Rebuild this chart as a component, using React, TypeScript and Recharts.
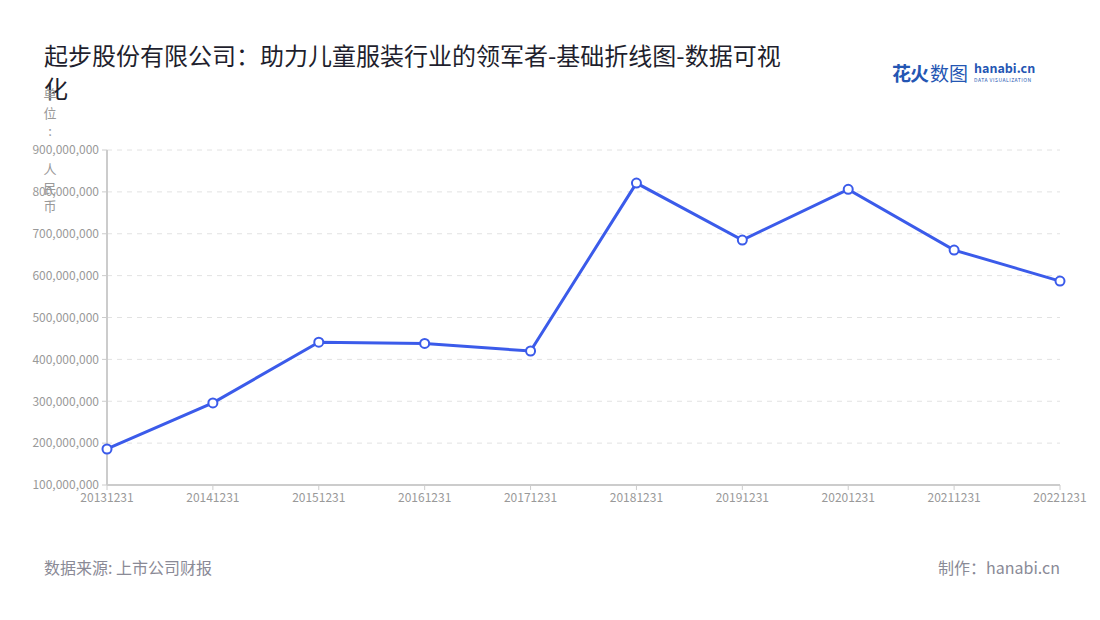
import React from "react";
import { LineChart, Line, XAxis, YAxis, CartesianGrid } from "recharts";

const dates = [
  "20131231",
  "20141231",
  "20151231",
  "20161231",
  "20171231",
  "20181231",
  "20191231",
  "20201231",
  "20211231",
  "20221231",
];
const revenue = [
  186000000, 296000000, 441000000, 438000000, 420000000, 821000000,
  685000000, 806000000, 661000000, 587000000,
];
const yTicks = [
  100000000, 200000000, 300000000, 400000000, 500000000, 600000000,
  700000000, 800000000, 900000000,
];

const data = dates.map((d, i) => ({ date: d, value: revenue[i] }));

const font = '"Noto Sans CJK SC", "Noto Sans", sans-serif';
const lineColor = "#3b5bea";
const axisColor = "#cccccc";
const tickStyle = { fill: "#999999", fontSize: 12, fontFamily: font };

export default function App() {
  return (
    <div
      style={{
        position: "fixed",
        left: 0,
        top: 0,
        width: 1100,
        height: 620,
        background: "#fff",
        fontFamily: font,
      }}
    >
      <div
        style={{
          position: "absolute",
          left: 44,
          top: 38,
          width: 750,
          fontSize: 24,
          lineHeight: "33px",
          color: "#1f1f2e",
        }}
      >
        起步股份有限公司：助力儿童服装行业的领军者-基础折线图-数据可视化
      </div>

      {/* logo */}
      <div
        style={{
          position: "absolute",
          left: 892,
          top: 59,
          display: "flex",
          alignItems: "center",
          gap: 4,
        }}
      >
        <span style={{ fontSize: 19, fontWeight: 700, color: "#2456b3", letterSpacing: -1 }}>
          花火
        </span>
        <span style={{ fontSize: 19, color: "#2456b3", marginLeft: -2 }}>数图</span>
        <div style={{ display: "flex", flexDirection: "column", marginLeft: 2 }}>
          <span style={{ fontSize: 12.5, fontWeight: 700, color: "#2456b3", lineHeight: "14px" }}>
            hanabi.cn
          </span>
          <span style={{ fontSize: 5, color: "#2456b3", letterSpacing: 0.5, lineHeight: "8px", marginTop: 1 }}>
            DATA VISUALIZATION
          </span>
        </div>
      </div>

      <div
        style={{
          position: "absolute",
          left: 43,
          top: 85,
          width: 14,
          fontSize: 13,
          lineHeight: "18.7px",
          color: "#999999",
          whiteSpace: "pre-wrap",
          textAlign: "center",
        }}
      >
        {"单\n位\n:\n \n人\n民\n币"}
      </div>

      <LineChart
        width={1100}
        height={620}
        data={data}
        margin={{ top: 150, right: 40, bottom: 105, left: 0 }}
      >
        <CartesianGrid
          vertical={false}
          stroke="#e2e2e2"
          strokeDasharray="5 5"
        />
        <XAxis
          dataKey="date"
          height={30}
          interval={0}
          tick={tickStyle}
          tickLine={{ stroke: axisColor }}
          axisLine={{ stroke: axisColor, strokeWidth: 2 }}
          tickSize={5}
          tickMargin={3}
        />
        <YAxis
          width={107}
          domain={[100000000, 900000000]}
          ticks={yTicks}
          interval={0}
          tick={tickStyle}
          tickLine={{ stroke: axisColor }}
          axisLine={{ stroke: axisColor, strokeWidth: 2 }}
          tickSize={5}
          tickMargin={3}
          tickFormatter={(v: number) => v.toLocaleString("en-US")}
        />
        <Line
          type="linear"
          dataKey="value"
          stroke={lineColor}
          strokeWidth={3}
          dot={{ r: 4.5, fill: "#ffffff", stroke: lineColor, strokeWidth: 2 }}
          isAnimationActive={false}
        />
      </LineChart>

      <div
        style={{
          position: "absolute",
          left: 44,
          top: 555,
          fontSize: 16,
          color: "#8a8a96",
        }}
      >
        数据来源: 上市公司财报
      </div>
      <div
        style={{
          position: "absolute",
          right: 40,
          top: 555,
          fontSize: 16,
          color: "#8a8a96",
        }}
      >
        制作：hanabi.cn
      </div>
    </div>
  );
}
